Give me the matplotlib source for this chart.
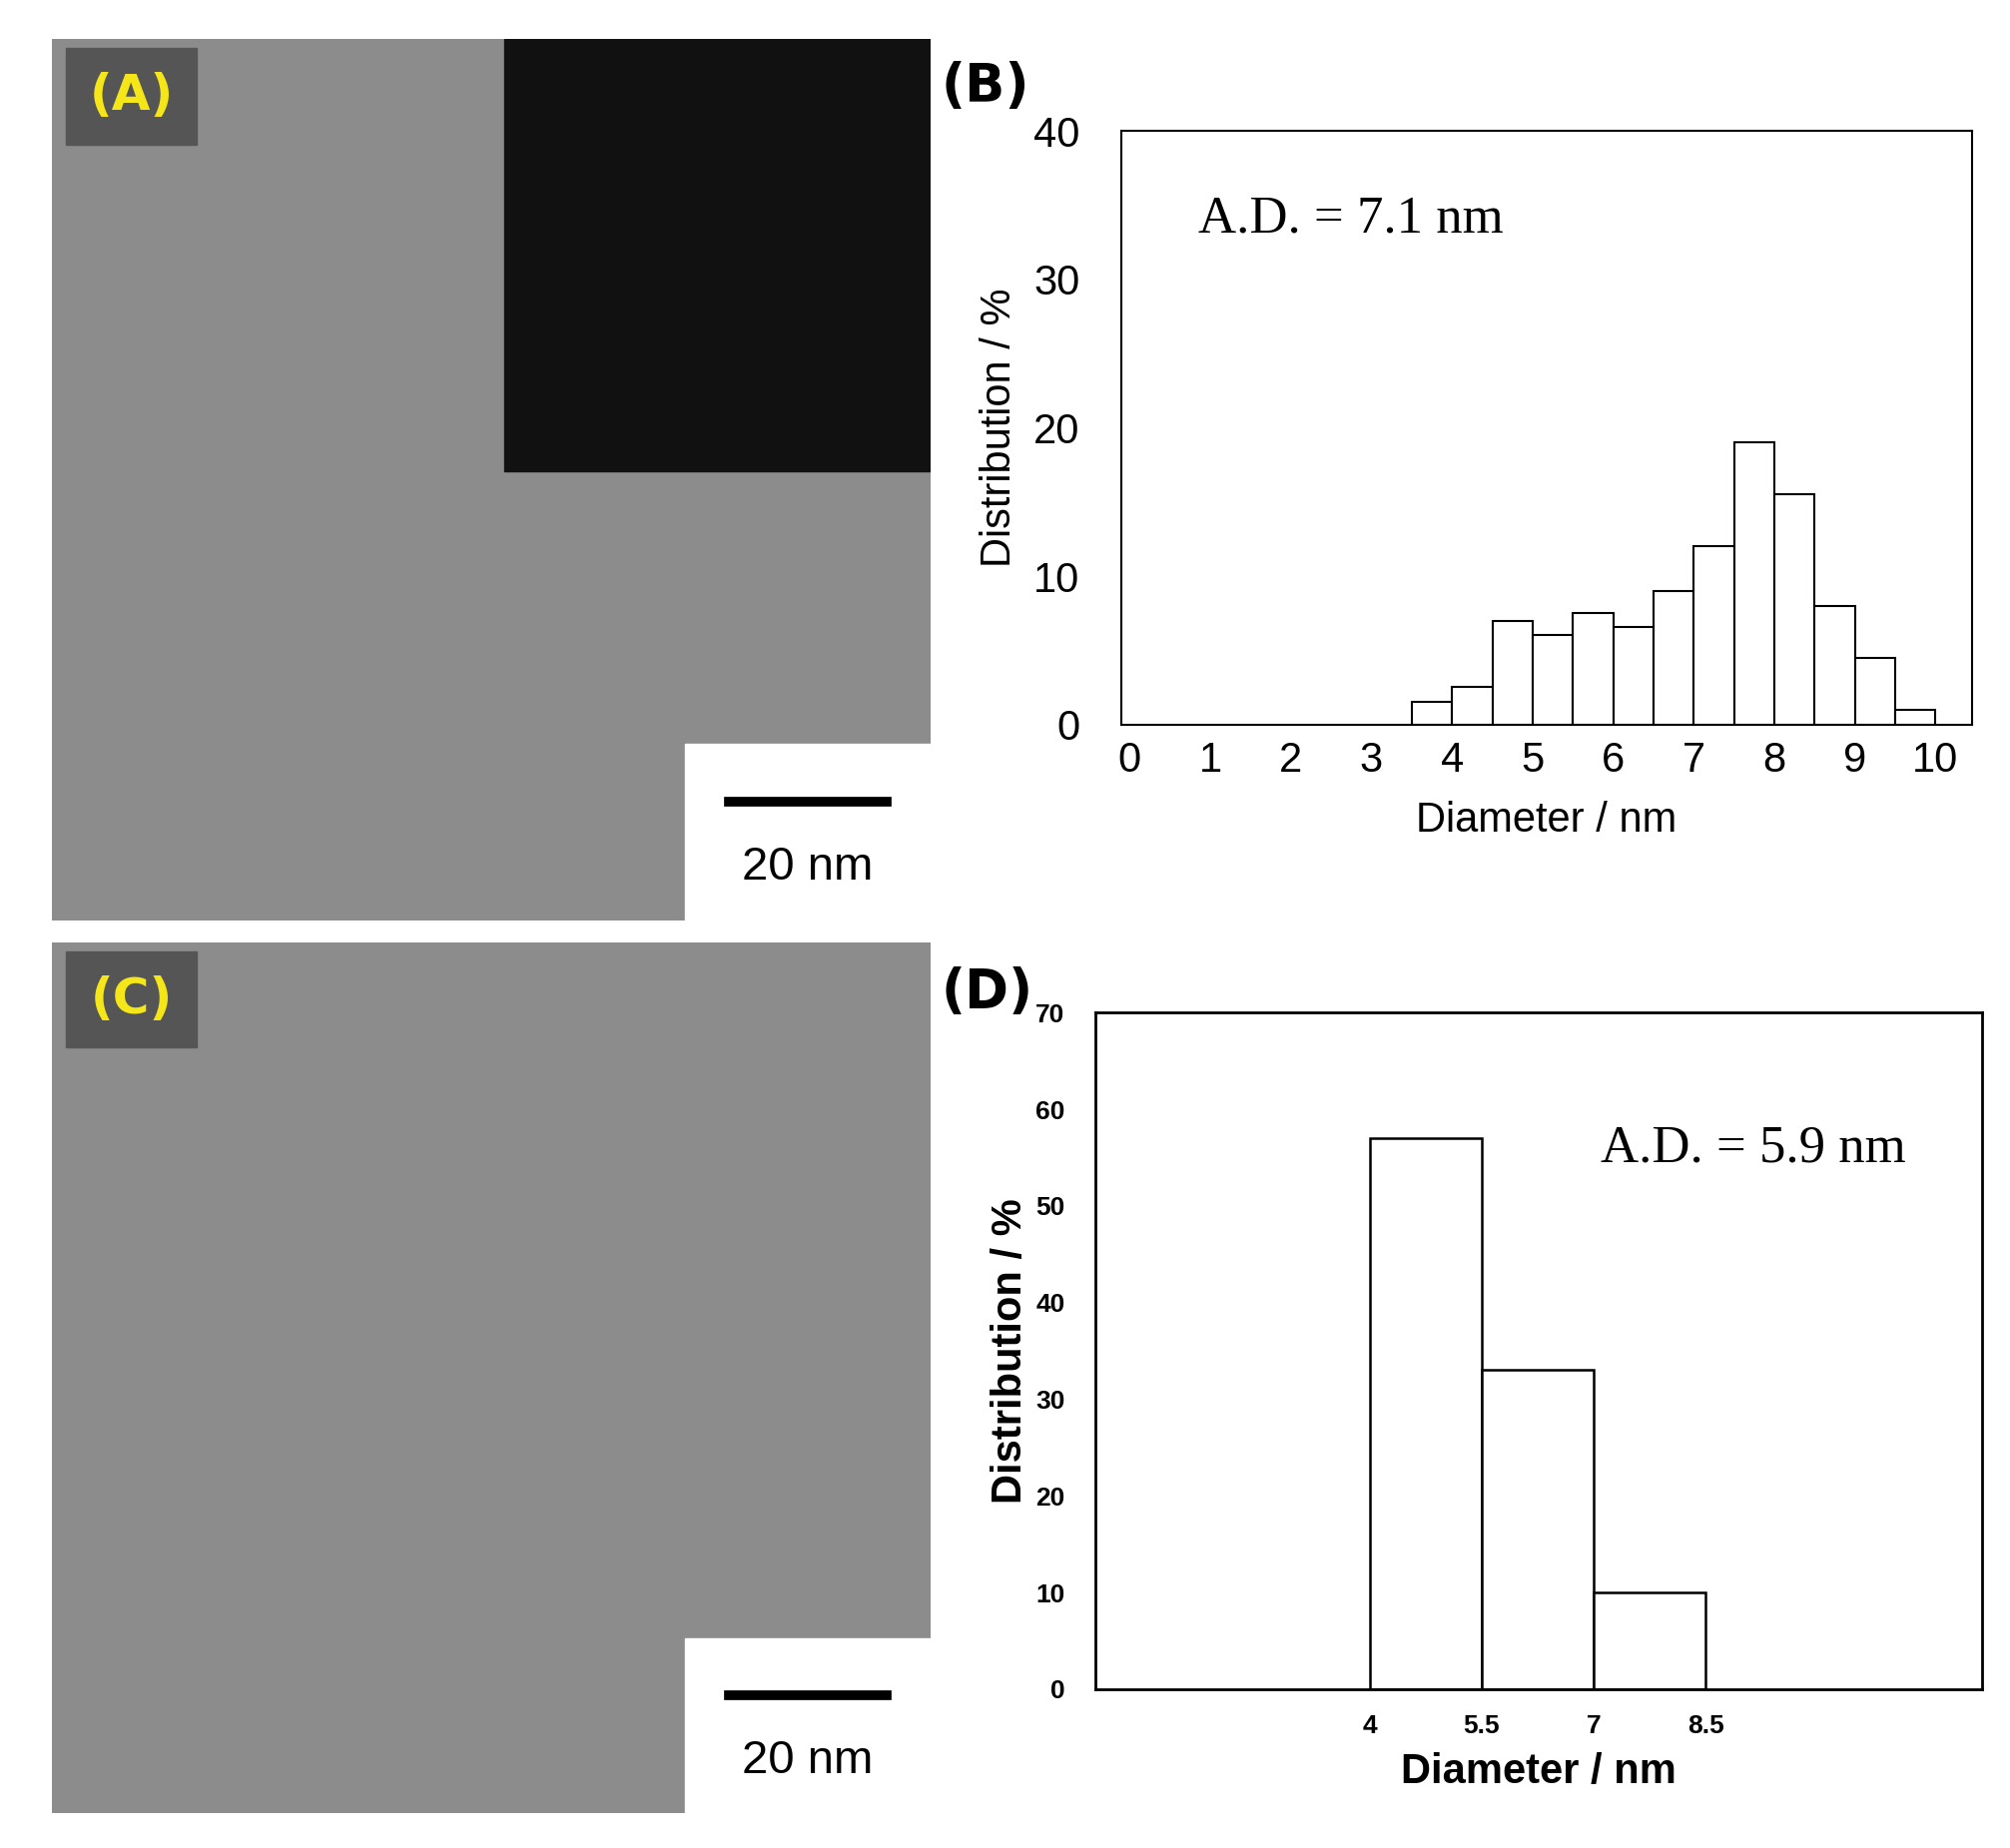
import matplotlib
matplotlib.use("Agg")
import matplotlib.pyplot as plt
from matplotlib.patches import Rectangle

# ── data ──
b_edges = [3.5, 4.0, 4.5, 5.0, 5.5, 6.0, 6.5, 7.0, 7.5, 8.0, 8.5, 9.0, 9.5, 10.0]
b_values = [1.5, 2.5, 7.0, 6.0, 7.5, 6.6, 9.0, 12.0, 19.0, 15.5, 8.0, 4.5, 1.0]
d_edges = [4.0, 5.5, 7.0, 8.5]
d_values = [57, 33, 10]

fig = plt.figure(figsize=(20.13, 18.51), dpi=100, facecolor="white")


def tem_panel(rect, label, inset=False):
    ax = fig.add_axes(rect)
    ax.set_xlim(0, 1)
    ax.set_ylim(0, 1)
    ax.set_facecolor("#8c8c8c")
    ax.set_xticks([])
    ax.set_yticks([])
    for s in ax.spines.values():
        s.set_visible(False)
    ax.add_patch(Rectangle((0.015, 0.88), 0.15, 0.11, color="#555555", transform=ax.transAxes))
    ax.text(0.09, 0.935, label, color="#f5e61a", fontsize=36, fontweight="bold",
            ha="center", va="center", family="DejaVu Sans", transform=ax.transAxes)
    ax.add_patch(Rectangle((0.72, 0.0), 0.28, 0.2, color="white", transform=ax.transAxes))
    ax.plot([0.77, 0.95], [0.135, 0.135], color="black", lw=7, transform=ax.transAxes)
    ax.text(0.86, 0.06, "20 nm", fontsize=34, ha="center", va="center",
            family="Liberation Sans", transform=ax.transAxes)
    if inset:
        ax.add_patch(Rectangle((0.515, 0.51), 0.485, 0.49, color="#111111", transform=ax.transAxes))
    return ax


tem_panel([0.026, 0.502, 0.437, 0.477], "(A)", inset=True)
tem_panel([0.026, 0.019, 0.437, 0.471], "(C)")

# ── (B) ──
axb = fig.add_axes([0.558, 0.608, 0.423, 0.321])
axb.bar(b_edges[:-1], b_values, width=0.5, align="edge", facecolor="white",
        edgecolor="black", linewidth=1.5)
axb.set_xlim(-0.1, 10.45)
axb.set_ylim(0, 40)
axb.set_xticks(range(11))
axb.set_yticks(range(0, 41, 10))
axb.tick_params(labelsize=30, length=0, pad=12)
for t in axb.get_xticklabels() + axb.get_yticklabels():
    t.set_family("Liberation Sans")
axb.tick_params(axis="y", pad=30)
axb.set_xlabel("Diameter / nm", fontsize=30, family="Liberation Sans", labelpad=14)
axb.set_ylabel("Distribution / %", fontsize=30, family="Liberation Sans", labelpad=10)
axb.text(0.09, 0.83, "A.D. = 7.1 nm", fontsize=38, family="Liberation Serif",
         transform=axb.transAxes)
for s in axb.spines.values():
    s.set_linewidth(1.5)
fig.text(0.468, 0.945, "(B)", fontsize=38, fontweight="bold", family="DejaVu Sans")

# ── (D) ──
axd = fig.add_axes([0.545, 0.086, 0.441, 0.366])
axd.bar(d_edges[:-1], d_values, width=1.5, align="edge", facecolor="white",
        edgecolor="black", linewidth=1.8)
axd.set_xlim(0.33, 12.2)
axd.set_ylim(0, 70)
axd.set_xticks(d_edges)
axd.set_xticklabels(["4", "5.5", "7", "8.5"])
axd.set_yticks(range(0, 71, 10))
axd.tick_params(labelsize=19, length=0, pad=18)
for t in axd.get_xticklabels() + axd.get_yticklabels():
    t.set_family("Liberation Sans")
    t.set_fontweight("bold")
axd.tick_params(axis="y", pad=22)
axd.set_xlabel("Diameter / nm", fontsize=30, fontweight="bold", family="Liberation Sans",
               labelpad=10)
axd.set_ylabel("Distribution / %", fontsize=30, fontweight="bold", family="Liberation Sans")
axd.text(0.57, 0.78, "A.D. = 5.9 nm", fontsize=38, family="Liberation Serif",
         transform=axd.transAxes)
for s in axd.spines.values():
    s.set_linewidth(2)
fig.text(0.468, 0.455, "(D)", fontsize=38, fontweight="bold", family="DejaVu Sans")

fig.savefig("out.png", dpi=100, facecolor="white")
